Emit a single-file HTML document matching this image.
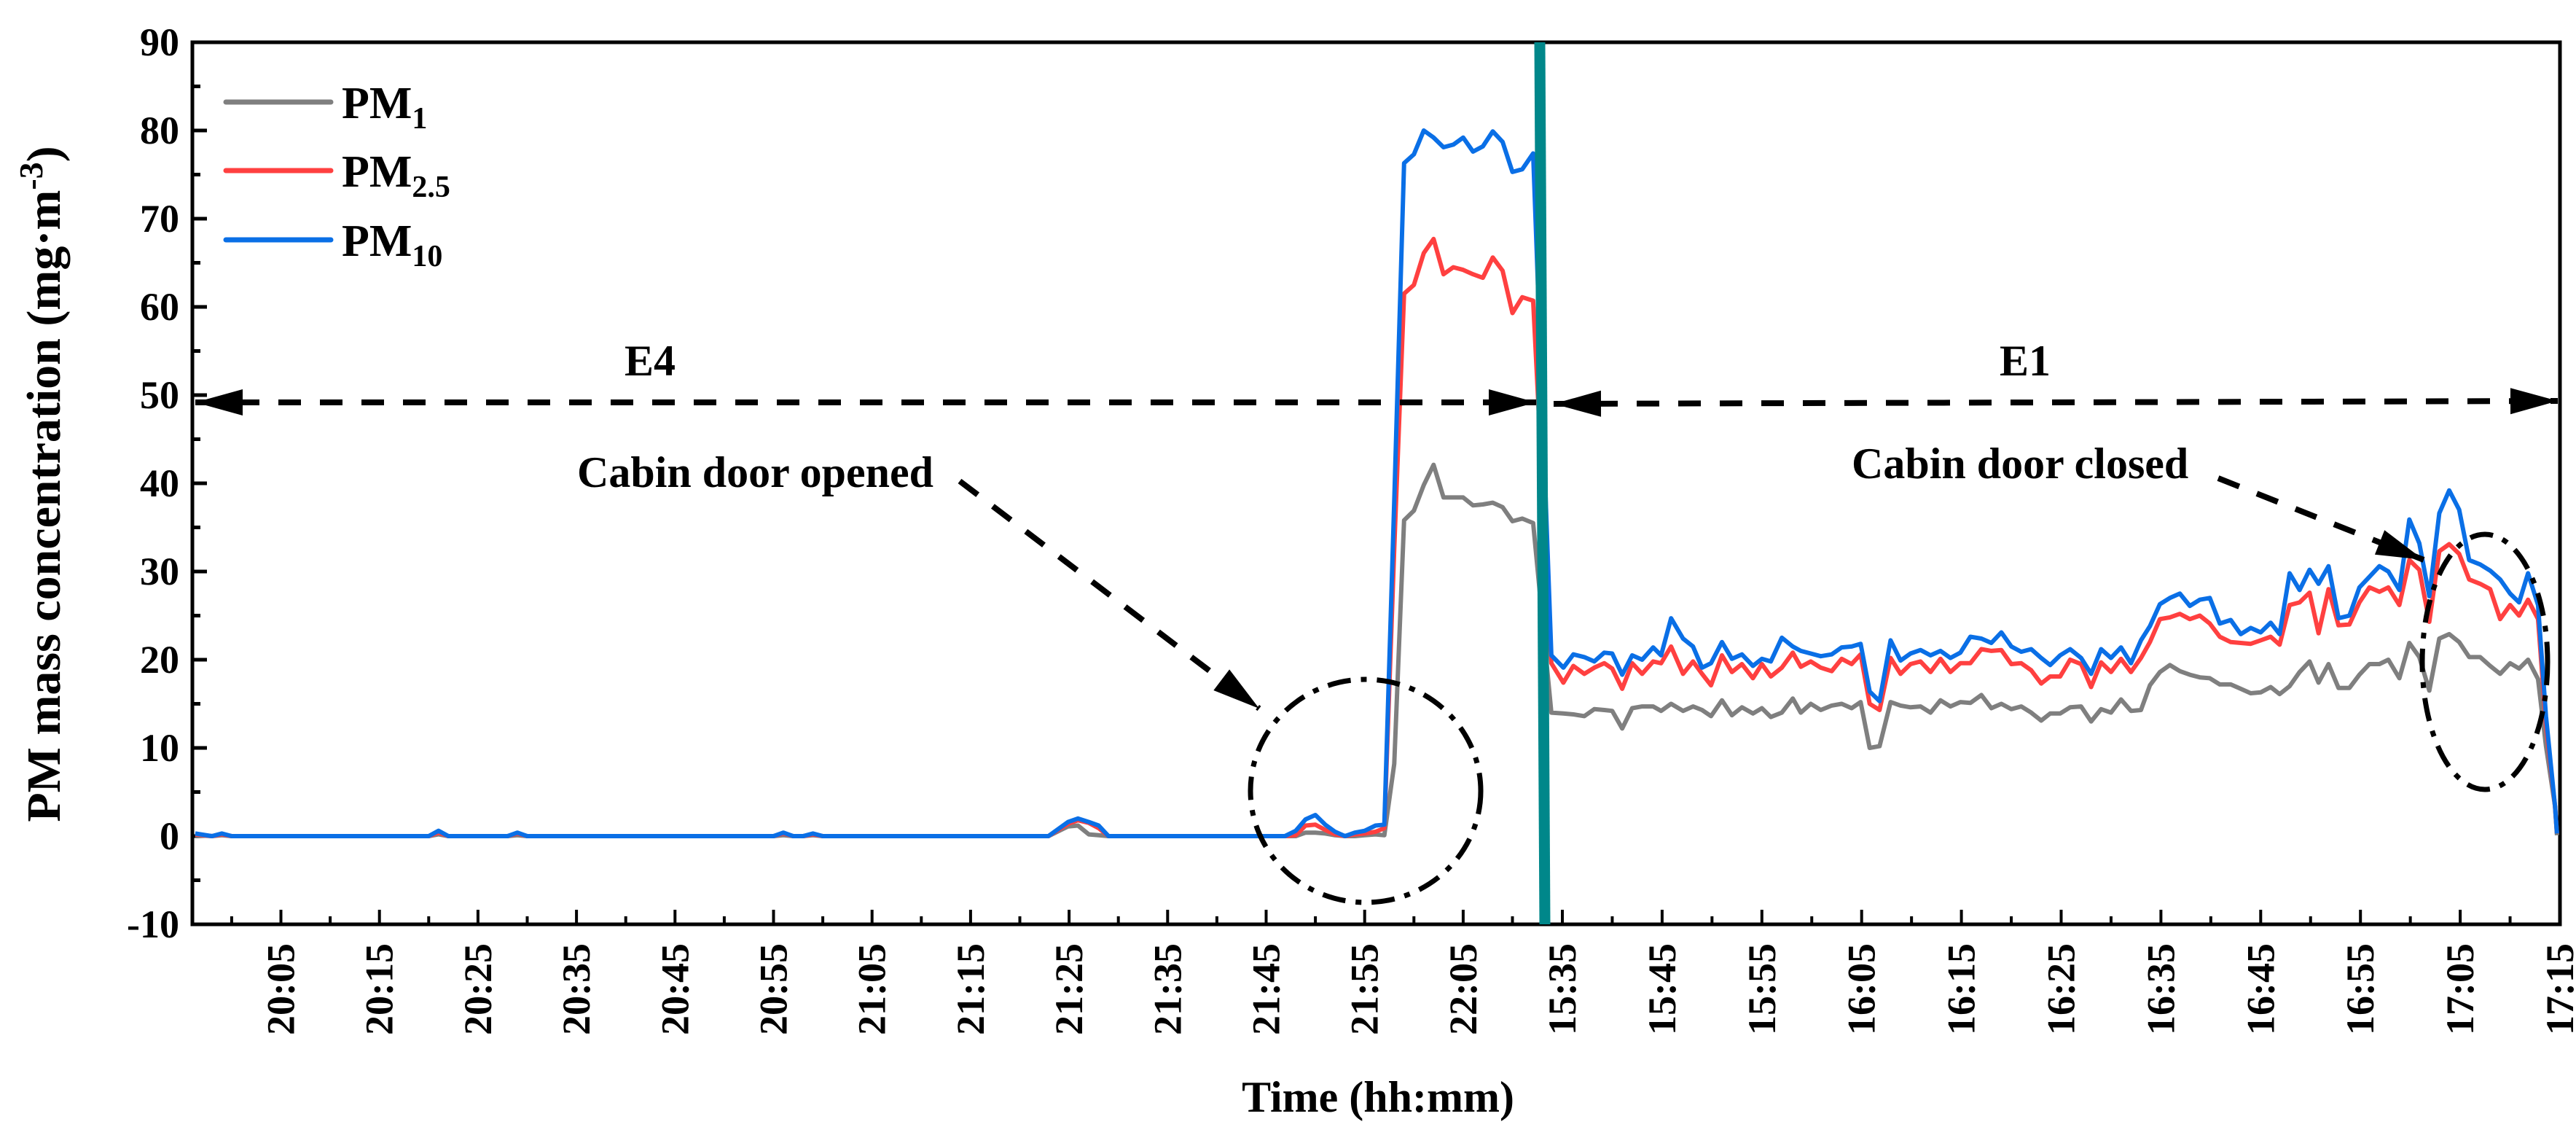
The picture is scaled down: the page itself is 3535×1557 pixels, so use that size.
<!DOCTYPE html>
<html><head><meta charset="utf-8">
<style>
html,body{margin:0;padding:0;background:#fff;}
svg{display:block;}
text{font-family:"Liberation Serif","Times New Roman",serif;font-weight:bold;fill:#000;}
</style></head>
<body>
<svg id="chart" width="3535" height="1557" viewBox="0 0 3535 1557" xmlns="http://www.w3.org/2000/svg">
<defs>
<clipPath id="plotclip"><rect x="264" y="58" width="3249" height="1210"/></clipPath>
</defs>
<g id="axes"></g>
<g id="series" clip-path="url(#plotclip)"></g>
<g id="annot"></g>
</svg>
<script>
// ---- Data ----
// Left segment (E4): minutes after 20:00
const timesLeft = [-3.7,-2,-1,0,20,21,22,28,29,30,55,56,57,58,59,60,80,82.9,84.9,85.9,87,88,89,106.9,108,109,110,111,112,113,114,115,116.1,117,118,119,120,121,122,123,124,125,126,127,128,129,130,131,132.1];
const pm10Left = [0.3,0,0.3,0,0,0.6,0,0,0.4,0, 0,0.4,0,0,0.3,0,0,0,1.6,2.0, 1.6,1.2,0,0,0.6,1.9,2.4,1.3,0.5,0, 0.4,0.6,1.2,1.3,38, 76.3,77.3,80.0,79.2,78.1, 78.4,79.2,77.6,78.2,79.9,78.7,75.3,75.6,77.4];
const pm25Left = [0.2,0,0.2,0,0,0.4,0,0,0.3,0, 0,0.3,0,0,0.2,0,0,0,1.4,1.8, 1.5,0.9,0,0,0.1,1.2,1.3,0.7,0.2,0, 0.2,0.3,0.5,0.9,32.6, 61.5,62.5,66.1,67.7,63.7, 64.5,64.2,63.7,63.3,65.6,64.1,59.3,61.1,60.7];
const pm1Left = [0.1,0,0.1,0,0,0.2,0,0,0.1,0, 0,0.1,0,0,0.1,0,0,0,1.1,1.2, 0.2,0.1,0,0,0,0.4,0.4,0.3,0.1,0, 0,0.1,0.2,0.1,8.2, 35.8,36.9,39.8,42.1,38.4, 38.4,38.4,37.5,37.6,37.8,37.3,35.7,36.0,35.5];
// Right segment (E1): minutes after 15:00
const timesRight = [33.9,35.1,36.1,37.2,38.2,39.2,40.0,41.0,42.0,43.0,44.1,44.9,45.9,47.1,48.1,49.0,49.9,51.0,52.0,53.0,54.1,55.0,55.9,57.0,58.1,58.9,59.9,60.9,62.0,63.0,64.0,64.9,65.8,66.8,67.9,68.9,69.9,70.9,71.9,72.9,73.9,74.9,75.9,77.0,78.0,79.0,80.0,81.0,82.0,83.0,83.9,84.9,85.9,87.0,88.0,89.0,90.0,91.0,92.0,93.0,93.9,94.9,95.9,96.9,97.9,98.9,99.9,100.9,102.0,103.0,104.0,105.0,106.0,106.9,107.9,108.9,109.9,110.8,111.8,112.8,113.9,114.9,115.9,116.9,117.8,118.9,119.9,120.9,121.9,122.9,123.9,124.9,125.9,127.0,128.0,129.0,130.0,130.9,131.8,132.8,133.6,134.5,134.7];
const pm10Right = [20.5,19.1,20.6,20.3,19.8,20.8,20.7,18.3,20.5,20.0, 21.4,20.5,24.7,22.4,21.5,19.1,19.6,22.0,20.1,20.6, 19.3,20.1,19.8,22.5,21.5,21.0,20.7,20.4,20.6,21.4, 21.5,21.8,16.4,15.3,22.2,19.9,20.7,21.1,20.5,21.0, 20.2,20.8,22.6,22.4,21.9,23.1,21.5,20.9,21.2,20.2, 19.4,20.5,21.2,20.2,18.4,21.2,20.2,21.4,19.6,22.2, 23.8,26.3,27.0,27.5,26.1,26.8,27.0,24.1,24.5,22.9, 23.6,23.1,24.2,22.9,29.8,27.9,30.2,28.6,30.6,24.7, 25.0,28.2,29.4,30.6,30.0,27.9,35.9,33.2,27.2,36.6, 39.2,37.0,31.3,30.8,30.1,29.1,27.5,26.5,29.8,26.2, 13.6,3.4,0.3];
const pm25Right = [19.6,17.4,19.3,18.4,19.1,19.6,19.0,16.7,19.6,18.4, 19.8,19.6,21.5,18.4,19.8,18.4,17.1,20.5,18.6,19.5, 17.9,19.5,18.1,19.1,20.8,19.2,19.8,19.1,18.7,20.1, 19.5,20.6,15.0,14.3,20.2,18.4,19.5,19.8,18.6,20.1, 18.6,19.6,19.6,21.2,21.0,21.1,19.5,19.6,18.8,17.3, 18.1,18.1,20.0,19.5,16.9,19.7,18.6,20.1,18.6,20.2, 22.0,24.6,24.8,25.2,24.6,25.0,24.1,22.6,22.0,21.9, 21.8,22.2,22.6,21.7,26.2,26.5,27.6,23.0,28.0,23.9, 24.0,26.5,28.2,27.7,28.2,26.2,31.3,30.2,24.3,32.3, 33.1,32.0,29.1,28.6,28.0,24.6,26.2,25.0,26.8,24.6, 12.6,3.4,0.3];
const pm1Right = [14.0,13.9,13.8,13.6,14.4,14.3,14.2,12.2,14.5,14.7, 14.7,14.2,15.0,14.2,14.7,14.3,13.6,15.4,13.7,14.6, 13.9,14.5,13.5,14.0,15.6,14.0,15.0,14.3,14.8,15.0, 14.5,15.2,10.0,10.2,15.2,14.8,14.6,14.7,14.0,15.4, 14.7,15.2,15.1,16.0,14.5,15.0,14.4,14.7,14.0,13.1, 13.9,13.9,14.6,14.7,13.0,14.4,14.0,15.5,14.2,14.3, 17.1,18.6,19.4,18.7,18.3,18.0,17.9,17.2,17.2,16.7, 16.2,16.3,16.9,16.1,17.0,18.6,19.8,17.4,19.5,16.8, 16.8,18.3,19.5,19.5,20.0,17.9,21.9,20.3,16.5,22.4, 22.9,22.0,20.3,20.3,19.3,18.4,19.6,19.0,20.0,17.8, 10.2,3.4,0.1];
const yTicks = [-10,0,10,20,30,40,50,60,70,80,90];
const leftTickLabels = ["20:05","20:15","20:25","20:35","20:45","20:55","21:05","21:15","21:25","21:35","21:45","21:55","22:05"];
const leftTickMinutes = [5,15,25,35,45,55,65,75,85,95,105,115,125];
const rightTickLabels = ["15:35","15:45","15:55","16:05","16:15","16:25","16:35","16:45","16:55","17:05","17:15"];
const rightTickMinutes = [35,45,55,65,75,85,95,105,115,125,135];

// ---- Scales ----
const PL=264, PR=3513, PT=58, PB=1268;
function y(v){ return PT + (90 - v) * (PB-PT)/100; }
function xL(t){ return 385.5 + (t - 5) * 13.52; }
function xR(t){ return 2144 + (t - 35) * 13.69; }
const NS="http://www.w3.org/2000/svg";
function mk(tag, attrs, parent){ const e=document.createElementNS(NS,tag); for(const k in attrs) e.setAttribute(k,attrs[k]); parent.appendChild(e); return e; }
const axes=document.getElementById('axes'), series=document.getElementById('series'), annot=document.getElementById('annot');

// ---- Frame ----
const frame = mk('rect',{x:PL,y:PT,width:PR-PL,height:PB-PT,fill:'none',stroke:'#000','stroke-width':5},axes);



// Y ticks
yTicks.forEach(v=>{
  const t=mk('line',{x1:PL,x2:PL+20,y1:y(v),y2:y(v),stroke:'#000','stroke-width':5},axes);
  
  
  const lb=mk('text',{x:PL-18,y:y(v)+18,'text-anchor':'end','font-size':54},axes);
  lb.textContent=String(v);
  
  
  if(v<90){
    const m=mk('line',{x1:PL,x2:PL+11,y1:y(v+5),y2:y(v+5),stroke:'#000','stroke-width':5},axes);
    
    
  }
});
// X ticks
function xTick(x, label){
  const t=mk('line',{x1:x,x2:x,y1:PB,y2:PB-20,stroke:'#000','stroke-width':4},axes);
  
  
  const lb=mk('text',{x:0,y:0,'text-anchor':'end','font-size':54,transform:`translate(${x+18},${PB+26}) rotate(-90)`},axes);
  lb.textContent=label;
  
  
}
function xMinor(x){
  const m=mk('line',{x1:x,x2:x,y1:PB,y2:PB-11,stroke:'#000','stroke-width':4},axes);
  
  
}
leftTickMinutes.forEach((t,i)=>{ xTick(xL(t), leftTickLabels[i]); xMinor(xL(t-5)); });
xMinor(xL(130));
rightTickMinutes.forEach((t,i)=>{ xTick(xR(t), rightTickLabels[i]); if(t>35) xMinor(xR(t-5)); });

// Axis titles
const yt=mk('text',{x:0,y:0,'text-anchor':'middle','font-size':66,transform:'translate(82,664) rotate(-90)'},axes);
yt.innerHTML='PM mass concentration (mg·m<tspan dy="-24" font-size="46">-3</tspan><tspan dy="24">)</tspan>';


const xt=mk('text',{x:1891,y:1525,'text-anchor':'middle','font-size':60},axes);
xt.textContent='Time (hh:mm)';



// ---- Series ----
function drawSeries(valsL, valsR, color, name){
  const pts=[];
  timesLeft.forEach((t,i)=>pts.push(xL(t).toFixed(1)+','+y(valsL[i]).toFixed(1)));
  timesRight.forEach((t,i)=>pts.push(xR(t).toFixed(1)+','+y(valsR[i]).toFixed(1)));
  const p=mk('polyline',{points:pts.join(' '),fill:'none',stroke:color,'stroke-width':6,'stroke-linejoin':'round'},series);
  
  
}
drawSeries(pm1Left, pm1Right, '#7f7f7f', 'pm1-line');
drawSeries(pm25Left, pm25Right, '#ff4040', 'pm25-line');
drawSeries(pm10Left, pm10Right, '#0a6fe6', 'pm10-line');

// Teal separator
const sep=mk('line',{x1:2113,y1:PT,x2:2120,y2:PB,stroke:'#00878a','stroke-width':15},annot);



// Legend
const legendItems=[['#7f7f7f','1',140,'legend-pm1'],['#ff4040','2.5',234,'legend-pm25'],['#0a6fe6','10',329,'legend-pm10']];
legendItems.forEach(([c,sub,ly,nm])=>{
  const g=mk('g',{},annot);
  
  
  mk('line',{x1:310,x2:454,y1:ly,y2:ly,stroke:c,'stroke-width':7,'stroke-linecap':'round'},g);
  const tx=mk('text',{x:469,y:ly+22,'font-size':62},g);
  tx.innerHTML=`PM<tspan dy="14" font-size="42">${sub}</tspan>`;
});

// Annotations
function tri(tipx,tipy,dx,dy,parent){
  const L=65,H=18; const len=Math.hypot(dx,dy); const ux=dx/len, uy=dy/len;
  const bx=tipx-ux*L, by=tipy-uy*L;
  return mk('polygon',{points:`${tipx},${tipy} ${bx-uy*H},${by+ux*H} ${bx+uy*H},${by-ux*H}`,fill:'#000'},parent);
}
function arrowLine(x1,y1,x2,y2,name,both){
  const g=mk('g',{},annot);
  
  
  mk('line',{x1,y1,x2,y2,stroke:'#000','stroke-width':8,'stroke-dasharray':'31 26'},g);
  tri(x2,y2,x2-x1,y2-y1,g);
  if(both) tri(x1,y1,x1-x2,y1-y2,g);
}
arrowLine(268,552,2108,552,'e4-period-arrow',true);
arrowLine(2132,554,3510,550,'e1-period-arrow',true);
arrowLine(1317,660,1728,972,'door-opened-arrow',false);
arrowLine(3044,656,3326,768,'door-closed-arrow',false);

const e1=mk('ellipse',{cx:1874,cy:1085,rx:158,ry:153,fill:'none',stroke:'#000','stroke-width':7,'stroke-dasharray':'32 14 8 14'},annot);


const e2=mk('ellipse',{cx:3410,cy:908,rx:86,ry:175,fill:'none',stroke:'#000','stroke-width':7,'stroke-dasharray':'32 14 8 14'},annot);



function label(x,yy,txt,anchor,name){
  const t=mk('text',{x,y:yy,'text-anchor':anchor,'font-size':60},annot);
  t.textContent=txt;
  
  
}
label(892,515,'E4','middle','e4-label');
label(2779,515,'E1','middle','e1-label');
label(792,668,'Cabin door opened','start','door-opened-label');
label(2541,656,'Cabin door closed','start','door-closed-label');
</script>
</body></html>
